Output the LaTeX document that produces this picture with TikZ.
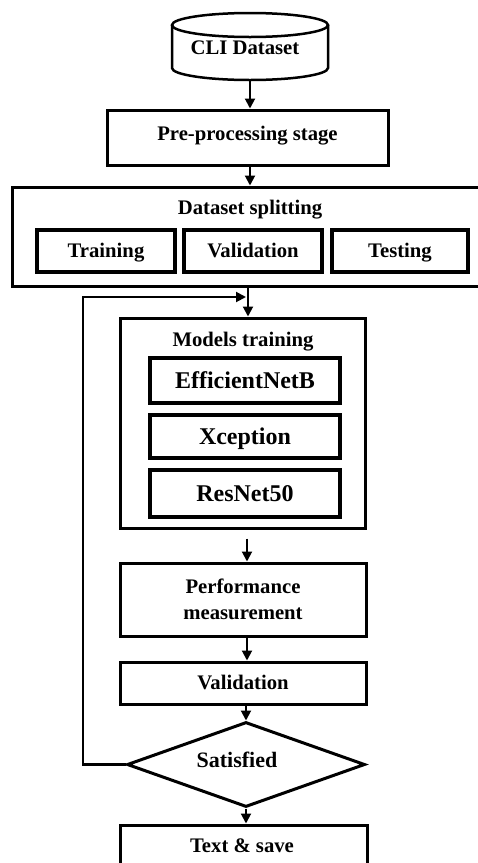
\documentclass[tikz,border=0pt]{standalone}
\usepackage{fontspec}
\setmainfont{Liberation Serif}
\usetikzlibrary{shapes.geometric,arrows.meta}
\begin{document}
\begin{tikzpicture}[x=1pt,y=-1pt,
  txt/.style={font=\fontsize{20.7}{24}\selectfont\bfseries, text=black,
              text height=15pt, text depth=3pt},
  bigtxt/.style={font=\fontsize{24}{28}\selectfont\bfseries, text=black,
                 text height=19pt, text depth=3pt},
  outerbox/.style={draw=black, line width=3pt, rectangle, inner sep=0pt, txt},
  innerbox/.style={draw=black, line width=4pt, rectangle, inner sep=0pt},
  flow/.style={draw=black, line width=2pt, -{Triangle[length=10pt,width=10pt]}},
  loopline/.style={draw=black, line width=2.5pt}]
\useasboundingbox (0,0) rectangle (478,863);

% database cylinder
\draw[line width=2.5pt, fill=white]
  (172,25) -- (172,68) arc[start angle=180, end angle=0, x radius=78, y radius=12]
  -- (328,25);
\draw[line width=2.5pt] (250,25) ellipse[x radius=78, y radius=12];
\node[txt] (cli) at (245,48) {CLI Dataset};
\coordinate (clibot) at (250,80);

% pre-processing
\node[outerbox, minimum width=281pt, minimum height=55pt] (pre) at (247.5,137.5) {};
\node[txt] (pretxt) at (247.5,134) {Pre-processing stage};

% dataset splitting
\node[outerbox, minimum width=472pt, minimum height=99pt] (split) at (248,236.5) {};
\node[txt] (splittxt) at (250,208) {Dataset splitting};
\node[innerbox, txt, minimum width=138pt, minimum height=42pt] (train) at (106,251) {Training};
\node[innerbox, txt, minimum width=138pt, minimum height=42pt] (valsplit) at (253,251) {Validation};
\node[innerbox, txt, minimum width=136pt, minimum height=42pt] (test) at (400,251) {Testing};

% models training
\node[outerbox, minimum width=245pt, minimum height=210pt] (models) at (242.5,423) {};
\node[txt] (modelstxt) at (243,340) {Models training};
\node[innerbox, bigtxt, minimum width=190pt, minimum height=45pt] (effnet) at (245,380.5) {EfficientNetB};
\node[innerbox, bigtxt, minimum width=190pt, minimum height=43pt] (xcep) at (245,436.5) {Xception};
\node[innerbox, bigtxt, minimum width=190pt, minimum height=47pt] (resnet) at (245,493.5) {ResNet50};

% evaluation
\node[outerbox, minimum width=246pt, minimum height=73pt, align=center,
      text height=, text depth=,
      font=\fontsize{20.7}{26}\selectfont\bfseries] (perf) at (243,599.5)
      {Performance\\measurement};
\node[outerbox, minimum width=246pt, minimum height=42pt] (valid) at (243,683) {Validation};
\node[diamond, draw=black, line width=3pt, inner sep=0pt, minimum width=238pt,
      minimum height=85pt] (sat) at (246,764.5) {};
\node[font=\fontsize{22}{26}\selectfont\bfseries] (sattxt) at (237,760) {Satisfied};
\node[outerbox, minimum width=247pt, minimum height=60pt] (save) at (243.5,855) {};
\node[txt] (savetxt) at (242,846) {Text \& save};

% connectors
\draw[flow] (clibot) -- (clibot |- pre.north);
\draw[flow] (pre.south -| clibot) -- (split.north -| clibot);
\draw[flow] (split.south) -- (split.south |- models.north);
\draw[flow, shorten <=9pt] (models.south -| 247,0) -- (247,0 |- perf.north);
\draw[flow] (perf.south -| 247,0) -- (247,0 |- valid.north);
\draw[flow] (valid.south -| 246,0) -- (sat.north);
\draw[flow] (sat.south) -- (sat.south |- save.north);

% feedback loop
\coordinate (lb) at (83,764.5);
\coordinate (lt) at (83,297);
\coordinate (lj) at (246,297);
\draw[loopline] (sat.west) -- (lb) -- (lt) -- (100,297);
\draw[flow] (lt) -- (lj);
\end{tikzpicture}
\end{document}
